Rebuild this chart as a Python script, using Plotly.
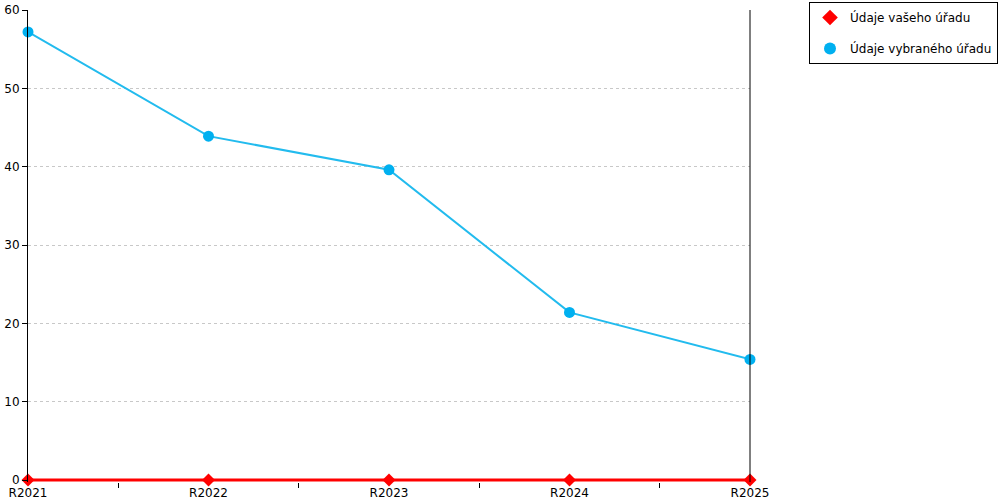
import plotly.graph_objects as go

categories = ["R2021", "R2022", "R2023", "R2024", "R2025"]
vase_uradu = [0, 0, 0, 0, 0]
vybraneho_uradu = [57.2, 43.9, 39.6, 21.4, 15.4]
y_ticks = [0, 10, 20, 30, 40, 50, 60]

W, H = 1000, 500
ml, mr, mt, mb = 28, 250, 10, 18
ymin = -0.25

fig = go.Figure()
series = [
    ("Údaje vašeho úřadu", vase_uradu, "#FF0000", "#FF0000", "diamond", 3, 10),
    ("Údaje vybraného úřadu", vybraneho_uradu, "#22BBEE", "#00B0F0", "circle", 2, 11),
]
for i, (name, vals, lc, mc, sym, lw, ms) in enumerate(series):
    fig.add_trace(go.Scatter(
        x=categories, y=vals, name=name, mode="lines",
        line=dict(color=lc, width=lw), showlegend=False, legendgroup=f"g{i}",
    ))
    fig.add_trace(go.Scatter(
        x=categories, y=vals, name=name, mode="markers",
        marker=dict(symbol=sym, size=ms, color=mc),
        cliponaxis=False, legendgroup=f"g{i}",
    ))

pw = W - ml - mr
ph = H - mt - mb
fig.update_layout(
    width=W, height=H,
    margin=dict(l=ml, r=mr, t=mt, b=mb, autoexpand=False),
    plot_bgcolor="white", paper_bgcolor="white",
    font=dict(family="DejaVu Sans", size=12, color="#000000"),
    xaxis=dict(
        type="category", range=[0, 4], tickson="boundaries",
        ticks="outside", ticklen=5, tickcolor="black",
        showgrid=False, showline=False, zeroline=False,
        tickfont=dict(size=12), automargin=False, ticklabelstandoff=2,
    ),
    yaxis=dict(
        range=[ymin, 60], tickvals=y_ticks,
        ticks="outside", ticklen=5, tickcolor="black",
        showline=True, linecolor="black", linewidth=1,
        showgrid=True, gridcolor="#C8C8C8", griddash="dot", gridwidth=1,
        zeroline=False, tickfont=dict(size=12), automargin=False,
    ),
    legend=dict(
        x=(809 - ml) / pw, y=(H - mb - 2) / ph,
        xanchor="left", yanchor="top",
        bordercolor="black", borderwidth=1,
        font=dict(size=12), tracegroupgap=12, traceorder="grouped",
        itemsizing="constant", itemwidth=30,
    ),
    showlegend=True,
)
fig.add_shape(type="line", xref="paper", yref="paper", x0=1, x1=1, y0=0, y1=1,
              line=dict(color="black", width=1))

fig.write_html("out.html", config={"displayModeBar": False},
               post_script="document.body.style.margin='0';")
